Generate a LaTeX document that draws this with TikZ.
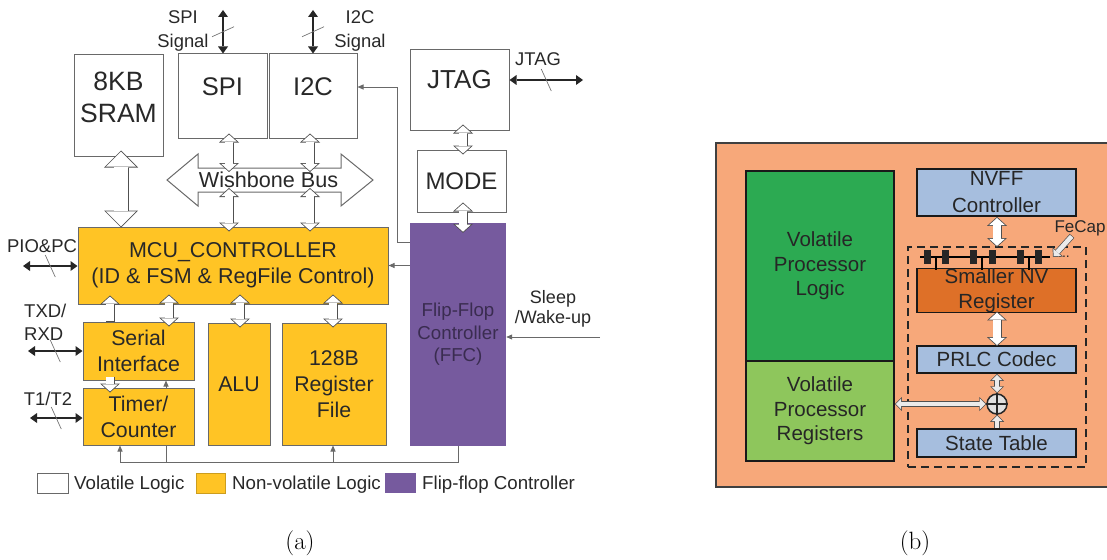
\documentclass[tikz,border=0pt]{standalone}
\usepackage{fontspec}
\newfontfamily\arialfont{Liberation Sans}
\usetikzlibrary{arrows.meta,calc,decorations.markings}

\definecolor{nvyellow}{RGB}{255,196,37}
\definecolor{ffcpurple}{RGB}{118,90,158}
\definecolor{ffctext}{RGB}{58,44,80}
\definecolor{edgegray}{RGB}{105,105,105}
\definecolor{txtgray}{RGB}{40,40,40}
\definecolor{fatedge}{RGB}{80,80,80}
\definecolor{bgorange}{RGB}{247,168,122}
\definecolor{vgreen}{RGB}{44,170,82}
\definecolor{rgreen}{RGB}{142,198,92}
\definecolor{nvblue}{RGB}{166,190,222}
\definecolor{nvorange}{RGB}{222,112,40}

\newcommand\afont[2]{\arialfont\fontsize{#1}{#2}\selectfont}

\tikzset{
  BigO/.tip={Triangle[length=17pt,width=34pt,line width=0pt]},
  BigI/.tip={Triangle[length=15.1pt,width=30.1pt,line width=0pt]},
  MidO/.tip={Triangle[length=9pt,width=20pt,line width=0pt]},
  MidI/.tip={Triangle[length=7.1pt,width=15.8pt,line width=0pt]},
  SmlO/.tip={Triangle[length=7pt,width=14pt,line width=0pt]},
  SmlI/.tip={Triangle[length=5.3pt,width=10.6pt,line width=0pt]},
  SigT/.tip={Triangle[length=7pt,width=10pt,line width=0pt]},
  bigfat/.style={line width=15pt,draw=fatedge,arrows={BigO-BigO},
    postaction={draw=white,line width=13.4pt,arrows={BigI-BigI},shorten <=1.1pt,shorten >=1.1pt}},
  midfat/.style={line width=9pt,draw=fatedge,arrows={MidO-MidO},
    postaction={draw=white,line width=7.4pt,arrows={MidI-MidI},shorten <=1.1pt,shorten >=1.1pt}},
  midfatto/.style={line width=9pt,draw=fatedge,arrows={-MidO},
    postaction={draw=white,line width=7.4pt,arrows={-MidI},shorten <=0.6pt,shorten >=1.1pt}},
  smlfat/.style={line width=6pt,draw=fatedge,arrows={SmlO-SmlO},
    postaction={draw=white!92!black,line width=4.6pt,arrows={SmlI-SmlI},shorten <=1pt,shorten >=1pt}},
  smlfatto/.style={line width=6pt,draw=fatedge,arrows={-SmlO},
    postaction={draw=white!92!black,line width=4.6pt,arrows={-SmlI},shorten <=0.6pt,shorten >=1pt}},
  sigarr/.style={line width=2.6pt,draw=black!85,arrows={SigT-SigT},
    postaction={decorate,decoration={markings,mark=at position 0.5 with
      {\draw[-,line width=0.7pt,black!55] (-5pt,11pt) -- (5pt,-11pt);}}}},
  thinarr/.style={draw=edgegray,line width=0.9pt,-{Triangle[length=6pt,width=5pt]}},
  thinline/.style={draw=edgegray,line width=0.9pt},
  vbox/.style={draw=edgegray,line width=1pt,fill=white,inner sep=0pt},
  nvbox/.style={draw=edgegray,line width=1pt,fill=nvyellow,inner sep=0pt,align=center,text=txtgray},
  ffcbox/.style={fill=ffcpurple,inner sep=0pt,align=center,text=ffctext},
  bbox/.style={draw=black!90,line width=1.8pt,inner sep=0pt,align=center,text=black!85},
  dashbox/.style={draw=black!85,line width=2pt,dash pattern=on 8pt off 5pt,inner sep=0pt},
  lbl/.style={inner sep=0pt,align=center,text=txtgray}
}

\begin{document}
\begin{tikzpicture}[x=1pt,y=-1pt]
\path[use as bounding box] (0,0) rectangle (1107,559);

% ---- (a) MCU with flip-flop controller
\node[vbox,minimum width=89,minimum height=101] (sram) at (118.5,105.5) {};
\node[lbl,font=\afont{26.5}{32}] (sramtxt) at (118.5,97) {8KB\\SRAM};
\node[vbox,minimum width=89,minimum height=84] (spi) at (222.5,96) {};
\node[lbl,font=\afont{25.5}{30}] (spitxt) at (222.5,87) {SPI};
\node[vbox,minimum width=88,minimum height=84] (i2c) at (313,96) {};
\node[lbl,font=\afont{25.5}{30}] (i2ctxt) at (313,87) {I2C};
\node[vbox,minimum width=99,minimum height=80] (jtag) at (459.5,90) {};
\node[lbl,font=\afont{26}{30}] (jtagtxt) at (459.5,80) {JTAG};
\node[vbox,minimum width=89,minimum height=62,font=\afont{24}{28},text=txtgray] (mode) at (461.5,181) {MODE};

\node[nvbox,minimum width=310,minimum height=77,font=\afont{21.5}{26}] (mcu) at (233,265.5)
  {MCU\_CONTROLLER\\(ID \& FSM \& RegFile Control)};
\node[ffcbox,minimum width=96,minimum height=223,font=\afont{18.7}{22.5}] (ffc) at (458,334.5)
  {Flip-Flop\\Controller\\(FFC)};
\node[nvbox,minimum width=111,minimum height=58,font=\afont{21.3}{26}] (ser) at (138.5,351) {Serial\\Interface};
\node[nvbox,minimum width=111,minimum height=57,font=\afont{21.3}{26}] (tmr) at (138.5,416.5) {Timer/\\Counter};
\node[nvbox,minimum width=62,minimum height=122,font=\afont{21.3}{26}] (alu) at (239,384) {ALU};
\node[nvbox,minimum width=104,minimum height=122,font=\afont{21.3}{26}] (reg) at (334,384) {128B\\Register\\File};

% wishbone bus
\draw[draw=edgegray,line width=1pt,fill=white] (167,180) -- (198,154) -- (198,168) -- (341,168)
  -- (341,154) -- (373,180) -- (341,206) -- (341,192) -- (198,192) -- (198,206) -- cycle;
\coordinate (bustop) at (270,172);
\coordinate (busbot) at (270,188);

% hollow bus arrows
\draw[bigfat] ($(sram.south -| 121,0)+(0,-6)$) -- ($(mcu.north -| 121,0)+(0,1)$);
\draw[midfat] ($(spi.south -| 229,0)+(0,-5)$) -- (bustop -| 229,0);
\draw[midfat] (busbot -| 229,0) -- ($(mcu.north -| 229,0)+(0,5)$);
\draw[midfat] ($(i2c.south -| 310,0)+(0,-5)$) -- (bustop -| 310,0);
\draw[midfat] (busbot -| 310,0) -- ($(mcu.north -| 310,0)+(0,5)$);
\draw[midfat] ($(jtag.south -| 463,0)+(0,-6)$) -- ($(mode.north -| 463,0)+(0,5)$);
\draw[midfat] ($(mode.south -| 463,0)+(0,-10)$) -- ($(ffc.north -| 463,0)+(0,10)$);
\draw[midfatto] (ser.north -| 110,0) -- ($(mcu.south -| 110,0)+(0,-9)$);
\draw[midfat] ($(ser.north -| 169,0)+(0,5)$) -- ($(mcu.south -| 169,0)+(0,-10)$);
\draw[midfat] ($(alu.north -| 240,0)+(0,5)$) -- ($(mcu.south -| 240,0)+(0,-10)$);
\draw[midfat] ($(reg.north -| 333,0)+(0,5)$) -- ($(mcu.south -| 333,0)+(0,-10)$);
\draw[midfatto] ($(ser.south -| 110,0)+(0,-4)$) -- ($(tmr.north -| 110,0)+(0,5)$);

\node[lbl,font=\afont{21.6}{26}] (bus) at (268.5,180) {Wishbone Bus};

% external signals
\coordinate (spisig) at (223,10);
\coordinate (i2csig) at (313,10);
\coordinate (jtagend) at (583,80);
\coordinate (pioend) at (23,266);
\coordinate (txdend) at (28,351);
\coordinate (t1end) at (30,418);
\draw[sigarr] (spisig) -- (spisig |- spi.north);
\draw[sigarr] (i2csig) -- (i2csig |- i2c.north);
\draw[sigarr] (jtagend -| jtag.east) -- (jtagend);
\draw[sigarr] (pioend) -- (pioend -| mcu.west);
\draw[sigarr] (txdend) -- (txdend -| ser.west);
\draw[sigarr] (t1end) -- (t1end -| tmr.west);

\node[lbl,font=\afont{18.4}{24}] (spilbl) at (183,31) {SPI\\Signal};
\node[lbl,font=\afont{18.4}{24}] (i2clbl) at (360,31) {I2C\\Signal};
\node[lbl,font=\afont{18.4}{22}] (jtaglbl) at (538,59) {JTAG};
\node[lbl,font=\afont{18.5}{22}] (piolbl) at (42,246) {PIO\&PC};
\node[lbl,align=left,anchor=west,font=\afont{18.5}{23}] (txdlbl) at (24,322.5) {TXD/\\RXD};
\node[lbl,font=\afont{18.4}{22}] (t1lbl) at (48,399) {T1/T2};
\node[lbl,font=\afont{18}{20}] (sleeplbl) at (553,309) {Sleep\\/Wake-up};

% control lines of the FFC
\coordinate (fbk) at (397,242);
\coordinate (sleepsrc) at (600,337);
\coordinate (fbt) at (120,462);
\draw[thinarr] (fbk -| ffc.west) -- (fbk) |- ($(i2c.east)+(0,-9)$);
\draw[thinarr] (mcu.east -| ffc.west) -- (mcu.east);
\draw[thinarr] (sleepsrc) -- (sleepsrc -| ffc.east);
\draw[thinline] (ffc.south) |- (fbt);
\draw[thinarr] (fbt) -- (fbt |- tmr.south);
\draw[thinarr] (fbt -| 333,0) -- (reg.south -| 333,0);
\draw[thinline] (fbt -| 166,0) -- (tmr.south -| 166,0);
\draw[thinarr] (tmr.north -| 166,0) -- (ser.south -| 166,0);

% legend
\node[vbox,minimum width=31,minimum height=20] (legv) at (52.5,483) {};
\node[lbl,anchor=west,font=\afont{18.7}{22}] (legvt) at (74,485) {Volatile Logic};
\node[nvbox,draw=nvyellow!80!black,minimum width=29,minimum height=20] (legn) at (210.5,483) {};
\node[lbl,anchor=west,font=\afont{18.7}{22}] (legnt) at (232,485) {Non-volatile Logic};
\node[ffcbox,minimum width=31,minimum height=20] (legf) at (400.5,483) {};
\node[lbl,anchor=west,font=\afont{18.7}{22}] (legft) at (422,485) {Flip-flop Controller};

% ---- (b) NVFF based processor
\draw[draw=black!75,line width=1.5pt,fill=bgorange] (716,143) rectangle (1112,487);
\node[bbox,fill=vgreen,minimum width=148,minimum height=190,font=\afont{20.5}{24.5}] (vpl) at (820,266)
  {Volatile\\Processor\\Logic};
\node[bbox,fill=rgreen,minimum width=148,minimum height=100,font=\afont{20.5}{24.5}] (vpr) at (820,411)
  {Volatile\\Processor\\Registers};
\node[bbox,fill=nvblue,minimum width=159,minimum height=47,font=\afont{20.5}{27}] (nvff) at (996.5,192.5)
  {NVFF\\Controller};
\node[dashbox,minimum width=178,minimum height=220] (nvreg) at (997,357) {};
\node[bbox,fill=nvorange,minimum width=159,minimum height=41,font=\afont{20.5}{25}] (nvr) at (996.5,290.5)
  {Smaller NV\\Register};
\node[bbox,fill=nvblue,minimum width=159,minimum height=27,font=\afont{20.5}{25}] (prlc) at (996.5,359.5)
  {PRLC Codec};
\node[bbox,fill=nvblue,minimum width=159,minimum height=28,font=\afont{20.5}{25}] (stt) at (996.5,443)
  {State Table};
\node[circle,draw=black!85,line width=1.5pt,fill=white!88!black,minimum size=20,inner sep=0pt] (xor) at (997,404) {};
\draw[line width=1.3pt,black!85] (xor.north) -- (xor.south) (xor.west) -- (xor.east);

% FeCap row
\draw[line width=1.4pt] (920,257) -- (1050,257);
\foreach \cx in {927,945,973,992,1020,1038}
  \fill[black!85] (\cx-3.5,250) rectangle (\cx+3.5,264);
\foreach \cx in {936,982,1029}
  \draw[line width=1.4pt] (\cx,257) -- (\cx,270);
\node[lbl,font=\afont{14}{14}] (capdots) at (1064,257) {...};
\node[lbl,font=\afont{17}{20}] (fecap) at (1080,228) {FeCap};
\coordinate (caphit) at (1053,257);

\draw[midfat] (nvff.south -| 997,0) -- ($(nvreg.north -| 997,0)+(0,1)$);
\draw[midfat] ($(nvr.south -| 997,0)+(0,-2)$) -- ($(prlc.north -| 997,0)+(0,1)$);
\draw[smlfat] (xor |- prlc.south) -- (xor.north);
\draw[smlfatto] (xor |- stt.north) -- (xor.south);
\draw[smlfat] (vpr.east |- xor) -- (xor.west);
\draw[smlfatto] ([xshift=-8]fecap.south) -- (caphit);

% captions
\node[font=\fontsize{25}{30}\selectfont] (capa) at (300,543) {(a)};
\node[font=\fontsize{25}{30}\selectfont] (capb) at (915,543) {(b)};
\end{tikzpicture}
\end{document}
